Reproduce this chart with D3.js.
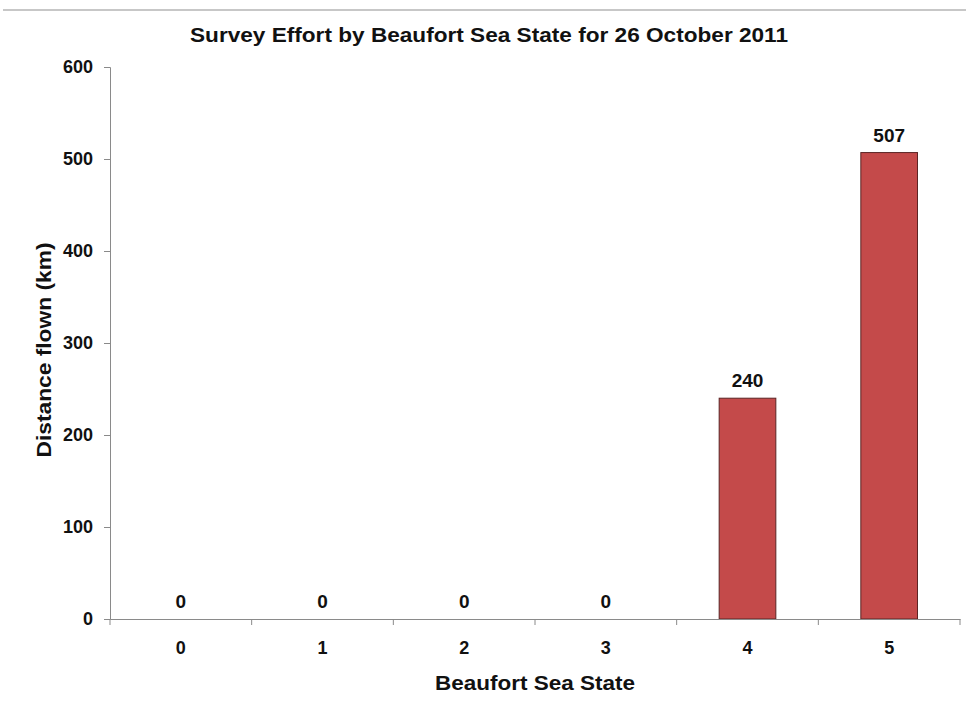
<!DOCTYPE html>
<html>
<head>
<meta charset="utf-8">
<script src="https://cdn.jsdelivr.net/npm/d3@7"></script>
<style>
  body { margin: 0; background: #fff; }
  svg { display: block; font-family: "Liberation Sans", Arial, sans-serif; }
</style>
</head>
<body>
<svg id="chart" width="966" height="709"></svg>
<script>
const categories = ["0", "1", "2", "3", "4", "5"];
const distances = [0, 0, 0, 0, 240, 507];
const yTicks = [0, 100, 200, 300, 400, 500, 600];

const svg = d3.select("#chart");
const margin = { left: 110 };

// top border line
svg.append("line").attr("x1", 3).attr("x2", 966).attr("y1", 10).attr("y2", 10)
  .attr("stroke", "#b5b5b5").attr("stroke-width", 1.5);

const x = d3.scaleBand().domain(categories).range([margin.left, 960]).paddingInner(0.6).paddingOuter(0.3);
const y = d3.scaleLinear().domain([0, 600]).range([619, 67]);

// title
svg.append("text").attr("x", 489).attr("y", 42).attr("text-anchor", "middle")
  .attr("font-size", 21).attr("font-weight", "bold").attr("fill", "#111")
  .attr("textLength", 598).attr("lengthAdjust", "spacingAndGlyphs")
  .text("Survey Effort by Beaufort Sea State for 26 October 2011");

// bars
svg.append("g").selectAll("rect").data(categories).join("rect")
  .attr("x", d => x(d))
  .attr("y", (d, i) => y(distances[i]))
  .attr("width", x.bandwidth())
  .attr("height", (d, i) => y(0) - y(distances[i]))
  .attr("fill", "#c44a4a")
  .attr("stroke", "#5b2424").attr("stroke-width", 1);

// value labels
svg.append("g").selectAll("text").data(categories).join("text")
  .attr("x", d => x(d) + x.bandwidth() / 2)
  .attr("y", (d, i) => y(distances[i]) - 11)
  .attr("text-anchor", "middle").attr("font-size", 19).attr("font-weight", "bold").attr("fill", "#111")
  .text((d, i) => distances[i]);

// y axis
const yAxis = svg.append("g").attr("transform", `translate(${margin.left},0)`)
  .call(d3.axisLeft(y).tickValues(yTicks).tickSize(6).tickPadding(11));
yAxis.select(".domain").attr("stroke", "#8a8a8a");
yAxis.selectAll(".tick line").attr("stroke", "#8a8a8a");
yAxis.selectAll(".tick text").attr("font-size", 18).attr("font-weight", "bold").attr("fill", "#111")
  .attr("font-family", "Liberation Sans, Arial, sans-serif");

// x axis
const xAxis = svg.append("g").attr("transform", `translate(0,${y(0)})`)
  .call(d3.axisBottom(x).tickSize(0).tickPadding(22));
xAxis.select(".domain").attr("stroke", "#8a8a8a");
xAxis.selectAll(".tick text").attr("font-size", 18).attr("font-weight", "bold").attr("fill", "#111")
  .attr("font-family", "Liberation Sans, Arial, sans-serif");
// boundary tick marks between categories
const step = x.step();
const bounds = d3.range(categories.length + 1).map(i => margin.left + i * step);
xAxis.selectAll(".bound").data(bounds).join("line").attr("class", "bound")
  .attr("x1", d => d).attr("x2", d => d).attr("y1", 0).attr("y2", 6)
  .attr("stroke", "#8a8a8a");

// axis titles
svg.append("text").attr("x", 535).attr("y", 690).attr("text-anchor", "middle")
  .attr("font-size", 21).attr("font-weight", "bold").attr("fill", "#111")
  .attr("textLength", 200).attr("lengthAdjust", "spacingAndGlyphs")
  .text("Beaufort Sea State");
svg.append("text").attr("transform", "translate(51,350) rotate(-90)").attr("text-anchor", "middle")
  .attr("font-size", 21).attr("font-weight", "bold").attr("fill", "#111")
  .attr("textLength", 215).attr("lengthAdjust", "spacingAndGlyphs")
  .text("Distance flown (km)");
</script>
</body>
</html>
